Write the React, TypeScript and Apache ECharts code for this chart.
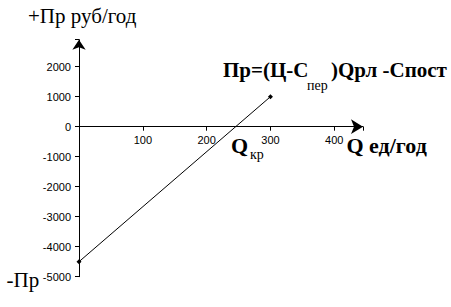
import React, { useEffect, useRef } from "react";
import * as echarts from "echarts";

const xTicks = [100, 200, 300, 400];
const yTicks = [-5000, -4000, -3000, -2000, -1000, 0, 1000, 2000];
const profitLine: [number, number][] = [
  [0, -4500],
  [300, 1000],
];

const txt = (text: string, x: number, y: number, size: number, bold: boolean) => ({
  type: "text",
  x,
  y,
  style: {
    text,
    fontFamily: "Liberation Serif",
    fontSize: size,
    fontWeight: bold ? "bold" : "normal",
    fill: "#000",
    verticalAlign: "middle",
  },
});

export default function App() {
  const ref = useRef<HTMLDivElement>(null);
  const overlayRef = useRef<HTMLDivElement>(null);
  useEffect(() => {
    if (!ref.current || !overlayRef.current) return;
    const chart = echarts.init(ref.current, null, { renderer: "svg" });
    chart.setOption({
      animation: false,
      grid: { left: 79, right: 88, top: 39.7, bottom: 30.3, containLabel: false },
      xAxis: {
        type: "value",
        min: 0,
        max: 445,
        interval: 100,
        splitLine: { show: false },
        axisLine: {
          onZero: true,
          lineStyle: { color: "#000", width: 1 },
          symbol: ["none", "arrow"],
          symbolSize: [11, 12],
        },
        axisTick: { show: true, length: 4, lineStyle: { color: "#000" } },
        axisLabel: {
          color: "#000",
          fontFamily: "Liberation Sans",
          fontSize: 11,
          margin: -142,
          formatter: (v: number) => (xTicks.includes(v) ? String(v) : ""),
        },
      },
      yAxis: {
        type: "value",
        min: -5000,
        max: 2900,
        interval: 1000,
        splitLine: { show: false },
        axisLine: {
          lineStyle: { color: "#000", width: 1 },
          symbol: ["none", "arrow"],
          symbolSize: [10, 10],
        },
        axisTick: { show: true, length: 4, lineStyle: { color: "#000" } },
        axisLabel: {
          color: "#000",
          fontFamily: "Liberation Sans",
          fontSize: 11,
          margin: 8,
          formatter: (v: number) => (yTicks.includes(v) ? String(v) : ""),
        },
      },
      series: [
        {
          type: "line",
          data: profitLine,
          symbol: "diamond",
          symbolSize: 5,
          lineStyle: { color: "#000", width: 1 },
          itemStyle: { color: "#000" },
        },
      ],
    });

    const overlay = echarts.init(overlayRef.current, null, { renderer: "svg" });
    overlay.setOption({
      animation: false,
      graphic: [
        txt("+Пр руб/год", 28, 16.3, 21, false),
        txt("Пр=(Ц-С", 223, 69.5, 21, true),
        txt("пер", 307, 85, 14, false),
        txt(")Qрл -Спост", 331, 69.5, 21, true),
        txt("Q", 231, 145.3, 22, true),
        txt("кр", 250, 154, 14, false),
        txt("Q ед/год", 346.5, 145.3, 22, true),
        txt("-Пр", 6.5, 280, 21, false),
      ],
    });
    return () => {
      chart.dispose();
      overlay.dispose();
    };
  }, []);
  return (
    <div style={{ position: "absolute", left: 0, top: 0, width: 451, height: 307, background: "#fff" }}>
      <div ref={ref} style={{ position: "absolute", left: 0, top: 0, width: 451, height: 307 }} />
      <div
        ref={overlayRef}
        style={{ position: "absolute", left: 0, top: 0, width: 451, height: 307, pointerEvents: "none" }}
      />
    </div>
  );
}
